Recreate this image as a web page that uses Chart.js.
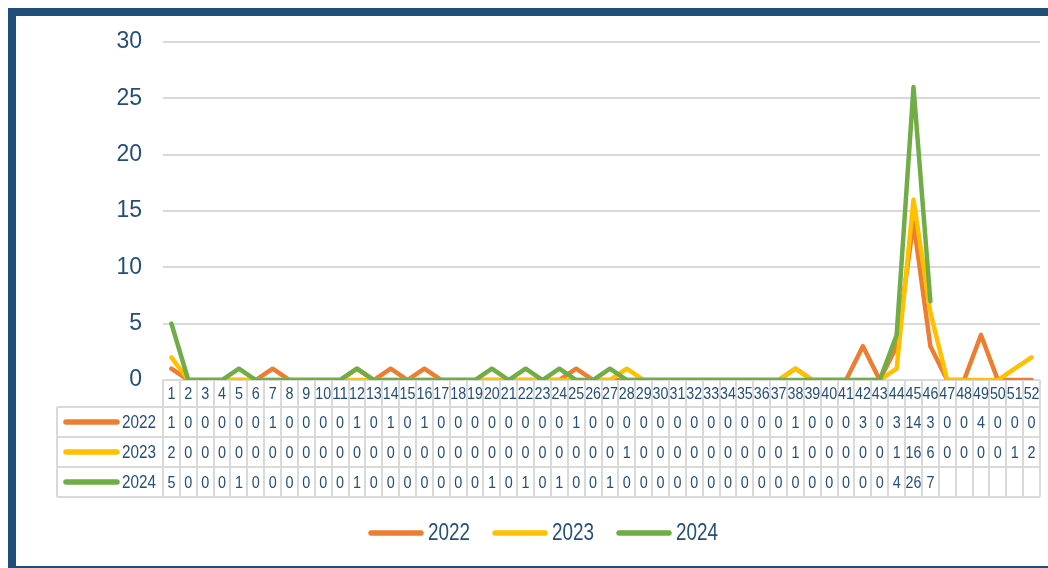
<!DOCTYPE html>
<html>
<head>
<meta charset="utf-8">
<script src="https://cdn.jsdelivr.net/npm/chart.js@4.4.1/dist/chart.umd.min.js"></script>
<style>
  html, body { margin: 0; padding: 0; background: #ffffff; }
  #wrap { position: relative; width: 1048px; height: 568px; overflow: hidden; }
  canvas { display: block; }
</style>
</head>
<body>
<div id="wrap"><canvas id="c" width="1048" height="568"></canvas></div>
<script>
// ---- data ----
const weeks = ["1","2","3","4","5","6","7","8","9","10","11","12","13","14","15","16","17","18","19","20",
  "21","22","23","24","25","26","27","28","29","30","31","32","33","34","35","36","37","38","39","40",
  "41","42","43","44","45","46","47","48","49","50","51","52"];
const seriesNames = ["2022", "2023", "2024"];
const values2022 = [1,0,0,0,0,0,1,0,0,0, 0,1,0,1,0,1,0,0,0,0, 0,0,0,0,1,0,0,0,0,0, 0,0,0,0,0,0,0,1,0,0, 0,3,0,3,14,3,0,0,4,0, 0,0];
const values2023 = [2,0,0,0,0,0,0,0,0,0, 0,0,0,0,0,0,0,0,0,0, 0,0,0,0,0,0,0,1,0,0, 0,0,0,0,0,0,0,1,0,0, 0,0,0,1,16,6,0,0,0,0, 1,2];
const values2024 = [5,0,0,0,1,0,0,0,0,0, 0,1,0,0,0,0,0,0,0,1, 0,1,0,1,0,0,1,0,0,0, 0,0,0,0,0,0,0,0,0,0, 0,0,0,4,26,7,null,null,null,null, null,null];
const yTicks = [0, 5, 10, 15, 20, 25, 30];

// ---- style ----
const COLORS = ["#ED7D31", "#FFC000", "#70AD47"];
const TEXT = "#264F78";
const GRID = "#D9D9D9";
const FRAME = "#1F4E79";
const FONT = "'Liberation Sans Narrow', 'Arial Narrow', 'Liberation Sans', Arial, sans-serif";
const allValues = [values2022, values2023, values2024];

const tablePlugin = {
  id: 'dataTable',
  beforeDraw(chart) {
    const ctx = chart.ctx;
    ctx.save();
    ctx.fillStyle = '#ffffff';
    ctx.fillRect(0, 0, chart.width, chart.height);
    // frame
    ctx.fillStyle = FRAME;
    ctx.fillRect(8, 8, 8, chart.height - 8);
    ctx.fillRect(8, 8, chart.width - 8, 8);
    ctx.fillRect(8, 566, chart.width - 8, 2);
    ctx.restore();
  },
  beforeDatasetsDraw(chart) {
    const ctx = chart.ctx;
    const x = chart.scales.x;
    const area = chart.chartArea;
    const n = weeks.length;
    const colW = (x.getPixelForValue(n - 1) - x.getPixelForValue(0)) / (n - 1);
    const left = x.getPixelForValue(0) - colW / 2;
    const right = x.getPixelForValue(n - 1) + colW / 2;
    const hTop = area.bottom, hBot = area.bottom + 27;
    const rowH = 30;
    const tblBot = hBot + rowH * seriesNames.length;
    const labelLeft = 57;
    ctx.save();
    ctx.strokeStyle = GRID;
    ctx.lineWidth = 2;
    ctx.beginPath();
    // header row
    ctx.moveTo(left, hTop); ctx.lineTo(right, hTop);
    for (let i = 0; i <= n; i++) {
      const px = Math.round(left + i * colW);
      ctx.moveTo(px, hTop); ctx.lineTo(px, tblBot);
    }
    // body rows
    for (let r = 0; r <= seriesNames.length; r++) {
      const py = hBot + r * rowH;
      ctx.moveTo(labelLeft, py); ctx.lineTo(right, py);
    }
    ctx.moveTo(labelLeft, hBot); ctx.lineTo(labelLeft, tblBot);
    ctx.stroke();

    ctx.fillStyle = TEXT;
    ctx.textAlign = 'center';
    ctx.textBaseline = 'middle';
    ctx.font = "17px " + FONT;
    for (let i = 0; i < n; i++) {
      const cx = x.getPixelForValue(i);
      const hw = weeks[i].length > 1 ? colW - 1 : 8;
      ctx.fillText(weeks[i], cx, (hTop + hBot) / 2 + 1, hw);
      for (let r = 0; r < seriesNames.length; r++) {
        const v = allValues[r][i];
        if (v !== null && v !== undefined) {
          const s = String(v);
          ctx.fillText(s, cx, hBot + r * rowH + rowH / 2 + 1, s.length > 1 ? colW - 1 : 8);
        }
      }
    }
    // row labels
    for (let r = 0; r < seriesNames.length; r++) {
      const cy = hBot + r * rowH + rowH / 2;
      ctx.strokeStyle = COLORS[r];
      ctx.lineWidth = 5.5;
      ctx.lineCap = 'round';
      ctx.beginPath();
      ctx.moveTo(66, cy); ctx.lineTo(117, cy);
      ctx.stroke();
      ctx.fillStyle = TEXT;
      ctx.textAlign = 'right';
      ctx.font = "18px " + FONT;
      ctx.fillText(seriesNames[r], 156, cy + 1, 34);
    }
    ctx.restore();
  },
  afterDraw(chart) {
    // legend
    const ctx = chart.ctx;
    ctx.save();
    ctx.font = "23px " + FONT;
    ctx.textBaseline = 'middle';
    ctx.textAlign = 'left';
    const lineW = 56, gap1 = 4, gap2 = 22, textW = 42;
    const widths = seriesNames.map(() => lineW + gap1 + textW);
    const total = widths.reduce((a, b) => a + b, 0) + gap2 * (seriesNames.length - 1);
    let cx = 543 - total / 2;
    const cy = 533;
    seriesNames.forEach((s, i) => {
      ctx.strokeStyle = COLORS[i];
      ctx.lineWidth = 5.5;
      ctx.lineCap = 'round';
      ctx.beginPath();
      ctx.moveTo(cx + 3, cy); ctx.lineTo(cx + lineW - 3, cy);
      ctx.stroke();
      ctx.fillStyle = TEXT;
      ctx.fillText(s, cx + lineW + gap1, cy + 1, textW);
      cx += widths[i] + gap2;
    });
    ctx.restore();
  }
};

const datasets = seriesNames.map((name, i) => ({
  label: name,
  data: allValues[i],
  borderColor: COLORS[i],
  backgroundColor: COLORS[i],
  borderWidth: 4.5,
  pointRadius: 0,
  pointHoverRadius: 0,
  tension: 0,
  fill: false,
  spanGaps: false,
  borderJoinStyle: 'round',
  borderCapStyle: 'round',
  order: seriesNames.length - i
}));

new Chart(document.getElementById('c'), {
  type: 'line',
  data: { labels: weeks, datasets },
  options: {
    responsive: false,
    devicePixelRatio: 1,
    animation: false,
    layout: { padding: { top: 42, right: 8, bottom: 188, left: 0 } },
    plugins: { legend: { display: false }, tooltip: { enabled: false } },
    scales: {
      x: {
        type: 'category',
        display: false,
        offset: true
      },
      y: {
        min: 0,
        max: 30,
        afterFit(s) { s.width = 163; },
        afterBuildTicks(s) { s.ticks = yTicks.map(v => ({ value: v })); },
        border: { display: false },
        grid: { color: GRID, lineWidth: 2, drawTicks: false },
        ticks: {
          padding: 21,
          color: TEXT,
          font: { family: FONT, size: 23 }
        }
      }
    }
  },
  plugins: [tablePlugin]
});
</script>
</body>
</html>
